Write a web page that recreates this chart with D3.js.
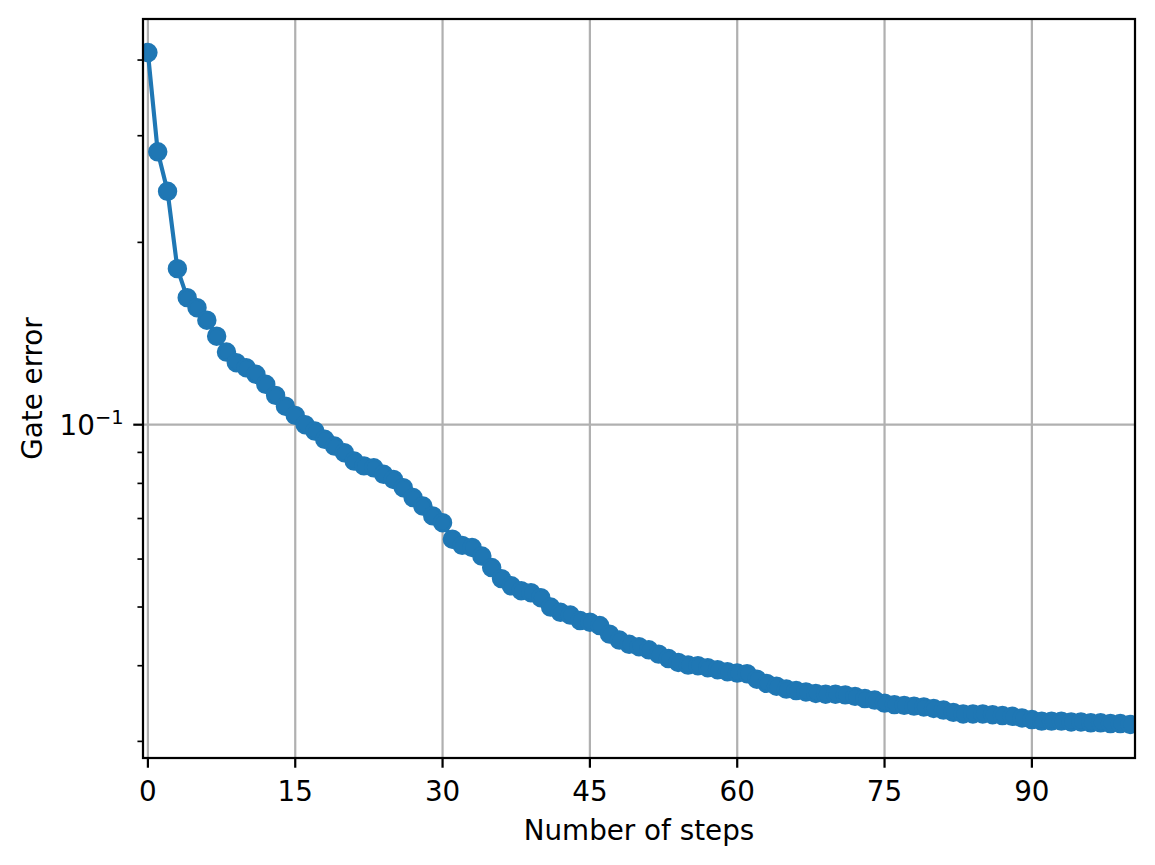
<!DOCTYPE html>
<html>
<head>
<meta charset="utf-8">
<script src="https://cdn.jsdelivr.net/npm/d3@7"></script>
<style>
  html, body { margin: 0; padding: 0; background: #ffffff; }
  svg { display: block; }
  text { font-family: "DejaVu Sans", sans-serif; fill: #000; }
</style>
</head>
<body>
<svg id="chart" width="1155" height="865"></svg>
<script>
// ---- data ----
const steps = d3.range(0, 101);
const gateError = [
  0.4115, 0.2822, 0.2429, 0.1810, 0.1621, 0.1560, 0.1488, 0.1400, 0.1318, 0.1266,
  0.1242, 0.1211, 0.1166, 0.1118, 0.1073, 0.1036, 0.1000, 0.0976, 0.0946, 0.0922,
  0.0899, 0.0871, 0.0855, 0.0849, 0.0828, 0.0812, 0.0787, 0.0758, 0.0734, 0.0707,
  0.0689, 0.0647, 0.0632, 0.0627, 0.0607, 0.0581, 0.0557, 0.0542, 0.0532, 0.0528,
  0.0518, 0.0500, 0.0490, 0.0485, 0.0475, 0.0472, 0.0466, 0.0451, 0.0441, 0.0434,
  0.0430, 0.0425, 0.0418, 0.0411, 0.0405, 0.0401, 0.0400, 0.0397, 0.0394, 0.0391,
  0.0389, 0.0388, 0.0380, 0.0374, 0.0370, 0.0366, 0.0364, 0.0362, 0.0360, 0.0359,
  0.0359, 0.0358, 0.0356, 0.0353, 0.0351, 0.0347, 0.0345, 0.0344, 0.0343, 0.0342,
  0.0340, 0.0338, 0.0335, 0.0333, 0.0333, 0.0333, 0.0332, 0.0331, 0.0330, 0.0328,
  0.0326, 0.0324, 0.0324, 0.0324, 0.0323, 0.0323, 0.0322, 0.0322, 0.0321, 0.0321,
  0.0320
];
const xTicks = [0, 15, 30, 45, 60, 75, 90];
const yMajorTicks = [0.1];
const yMinorTicks = [0.03, 0.04, 0.05, 0.06, 0.07, 0.08, 0.09, 0.2, 0.3, 0.4];
const xLabel = "Number of steps";
const yLabel = "Gate error";
const xLimits = [-0.5, 100.5];

// ---- layout ----
const pt = 200 / 72;              // figure rendered at 200 dpi
const plot = { left: 143, top: 19, width: 992, height: 739 };
const fontSize = 10 * pt;
const color = "#1f77b4";

const svg = d3.select("#chart");
svg.append("rect").attr("width", 1155).attr("height", 865).attr("fill", "#fff");

// log autoscale with 5% margins (in log space)
const lmin = Math.log10(d3.min(gateError)), lmax = Math.log10(d3.max(gateError));
const m = (lmax - lmin) * 0.05;
const yDomain = [Math.pow(10, lmin - m), Math.pow(10, lmax + m)];

const x = d3.scaleLinear().domain(xLimits).range([plot.left, plot.left + plot.width]);
const y = d3.scaleLog().domain(yDomain).range([plot.top + plot.height, plot.top]);

// clip path
svg.append("defs").append("clipPath").attr("id", "clip")
  .append("rect").attr("x", plot.left).attr("y", plot.top)
  .attr("width", plot.width).attr("height", plot.height);

// grid
const grid = svg.append("g").attr("clip-path", "url(#clip)");
grid.selectAll(".gx").data(xTicks).join("line")
  .attr("x1", d => x(d)).attr("x2", d => x(d))
  .attr("y1", plot.top).attr("y2", plot.top + plot.height)
  .attr("stroke", "#b0b0b0").attr("stroke-width", 0.8 * pt);
grid.selectAll(".gy").data(yMajorTicks).join("line")
  .attr("y1", d => y(d)).attr("y2", d => y(d))
  .attr("x1", plot.left).attr("x2", plot.left + plot.width)
  .attr("stroke", "#b0b0b0").attr("stroke-width", 0.8 * pt);

// data
const pts = steps.map((s, i) => [s, gateError[i]]);
const dataG = svg.append("g").attr("clip-path", "url(#clip)");
dataG.append("path")
  .attr("d", d3.line().x(d => x(d[0])).y(d => y(d[1]))(pts))
  .attr("fill", "none").attr("stroke", color)
  .attr("stroke-width", 1.5 * pt).attr("stroke-linejoin", "round").attr("stroke-linecap", "butt");
dataG.selectAll("circle").data(pts).join("circle")
  .attr("cx", d => x(d[0])).attr("cy", d => y(d[1]))
  .attr("r", 3 * pt).attr("fill", color)
  .attr("stroke", color).attr("stroke-width", 1 * pt);

// x axis ticks
const bottom = plot.top + plot.height;
const xAxisG = svg.append("g");
xAxisG.selectAll("line").data(xTicks).join("line")
  .attr("x1", d => x(d)).attr("x2", d => x(d))
  .attr("y1", bottom).attr("y2", bottom + 3.5 * pt)
  .attr("stroke", "#000").attr("stroke-width", 0.8 * pt);
xAxisG.selectAll("text").data(xTicks).join("text")
  .attr("x", d => x(d)).attr("y", 801)
  .attr("text-anchor", "middle").attr("font-size", fontSize)
  .text(d => d3.format("d")(d));

// y axis ticks
const yAxisG = svg.append("g");
yAxisG.selectAll(".maj").data(yMajorTicks).join("line")
  .attr("x1", plot.left - 3.5 * pt).attr("x2", plot.left)
  .attr("y1", d => y(d)).attr("y2", d => y(d))
  .attr("stroke", "#000").attr("stroke-width", 0.8 * pt);
yAxisG.selectAll(".min").data(yMinorTicks.filter(v => v >= yDomain[0] && v <= yDomain[1])).join("line")
  .attr("class", "min")
  .attr("x1", plot.left - 2 * pt).attr("x2", plot.left)
  .attr("y1", d => y(d)).attr("y2", d => y(d))
  .attr("stroke", "#000").attr("stroke-width", 0.6 * pt);
yMajorTicks.forEach(v => {
  const e = Math.round(Math.log10(v));
  const t = yAxisG.append("text")
    .attr("x", plot.left - 7 * pt).attr("y", y(v) + 10.5)
    .attr("text-anchor", "end").attr("font-size", fontSize);
  t.append("tspan").text("10");
  t.append("tspan").attr("font-size", fontSize * 0.7).attr("dy", -11)
    .text("\u2212" + Math.abs(e));
});

// spines
svg.append("rect")
  .attr("x", plot.left).attr("y", plot.top)
  .attr("width", plot.width).attr("height", plot.height)
  .attr("fill", "none").attr("stroke", "#000").attr("stroke-width", 0.8 * pt);

// axis labels
svg.append("text")
  .attr("x", plot.left + plot.width / 2).attr("y", 839.5)
  .attr("text-anchor", "middle").attr("font-size", fontSize)
  .text(xLabel);
svg.append("text")
  .attr("transform", `translate(41.5, ${plot.top + plot.height / 2}) rotate(-90)`)
  .attr("text-anchor", "middle").attr("font-size", fontSize)
  .text(yLabel);
</script>
</body>
</html>
